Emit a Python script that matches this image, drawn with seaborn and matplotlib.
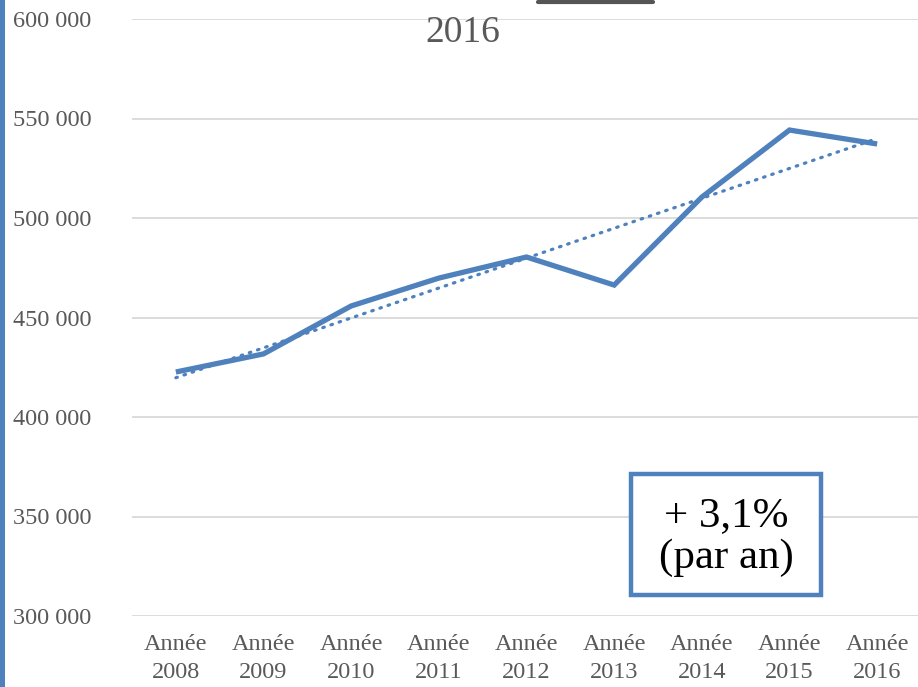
import numpy as np
import pandas as pd
import matplotlib
matplotlib.use("Agg")
import matplotlib.pyplot as plt
import seaborn as sns
from matplotlib.patches import Rectangle
from matplotlib.lines import Line2D

# ── Data ──────────────────────────────────────────────────────────────────────
years = ["2008", "2009", "2010", "2011", "2012", "2013", "2014", "2015", "2016"]
values = [422600, 431700, 455800, 469800, 480400, 466300, 510500, 544200, 537200]
x_labels = ["Année\n" + y for y in years]
y_ticks = [300000, 350000, 400000, 450000, 500000, 550000, 600000]
y_labels = ["300 000", "350 000", "400 000", "450 000", "500 000", "550 000", "600 000"]
title = "2016"
note = "+ 3,1%\n(par an)"

df = pd.DataFrame({"pos": np.arange(len(years)), "value": values})

# linear trendline (like Excel's)
slope, intercept = np.polyfit(df["pos"], df["value"], 1)
df["trend"] = intercept + slope * df["pos"]

# ── Style ─────────────────────────────────────────────────────────────────────
sns.set_style("white")
plt.rcParams["font.family"] = ["Liberation Serif", "DejaVu Serif"]

blue = "#4f81bd"
grey_txt = "#595959"

W, H = 918, 687
fig = plt.figure(figsize=(W / 100, H / 100), dpi=100)
ax = fig.add_axes([132 / W, (H - 616) / H, 789 / W, 597 / H])

sns.lineplot(data=df, x="pos", y="trend", ax=ax, color=blue, lw=2.3,
             linestyle=(0, (0.5, 2.2)), dash_capstyle="round")
sns.lineplot(data=df, x="pos", y="value", ax=ax, color=blue, lw=3.8,
             solid_capstyle="butt", solid_joinstyle="miter")

ax.set_xlim(-0.5, len(years) - 0.5)
ax.set_ylim(300000, 600000)
ax.set_xticks(df["pos"])
ax.set_xticklabels(x_labels, fontsize=17.5, color=grey_txt, linespacing=1.45)
ax.set_yticks(y_ticks)
ax.set_yticklabels(y_labels, fontsize=17.5, color=grey_txt)
ax.tick_params(axis="y", length=0, pad=29)
ax.tick_params(axis="x", length=0, pad=13)
ax.set_xlabel("")
ax.set_ylabel("")
ax.grid(axis="y", color="#d9d9d9", lw=1.3)
ax.set_axisbelow(True)
for s in ax.spines.values():
    s.set_visible(False)

# title (cut at the top in the source)
fig.text(463 / W, 1 - 33 / H, title, fontsize=27, color=grey_txt,
         ha="center", va="center")
fig.add_artist(Line2D([538 / W, 653 / W], [1 - 2 / H, 1 - 2 / H],
                      color="#555555", lw=3, transform=fig.transFigure))

# left accent bar
fig.add_artist(Rectangle((0, 0), 5 / W, 1, transform=fig.transFigure,
                         color=blue, lw=0))

# note box
fig.add_artist(Rectangle((631 / W, 1 - 595 / H), 190 / W, 121 / H,
                         transform=fig.transFigure, facecolor="white",
                         edgecolor=blue, lw=3.2))
fig.text(726 / W, 1 - 537 / H, note, fontsize=31, color="black",
         ha="center", va="center", linespacing=1.1)

fig.savefig("out.png", dpi=100)
